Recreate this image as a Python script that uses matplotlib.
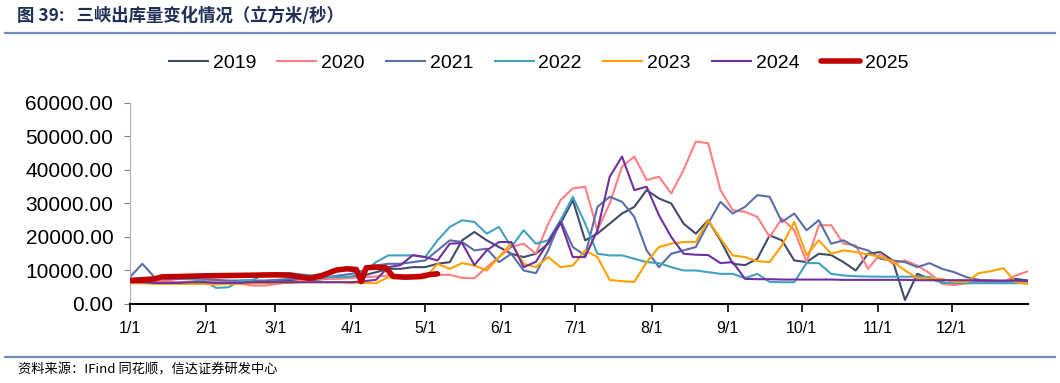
import numpy as np
import matplotlib
matplotlib.use("Agg")
import matplotlib.pyplot as plt
from matplotlib.lines import Line2D

plt.rcParams['font.family'] = ['Liberation Sans', 'DejaVu Sans']

# 数据：每 5 天一个读数（立方米/秒），横轴为一年中的第几天
days = np.arange(0, 366, 5)

y2019 = [7000, 7200, 7000, 6800, 6500, 6500, 6300, 6200, 6300, 6500,
         6500, 6800, 7000, 7000, 7200, 7200, 7500, 7800, 8000, 8500,
         9500, 10500, 10500, 11000, 11000, 12000, 12500, 19000, 21500, 19000,
         17000, 15000, 14000, 15000, 18000, 24000, 31000, 19000, 21000, 24000,
         27000, 29000, 34000, 31500, 30000, 24000, 21000, 25000, 19000, 12000,
         11600, 13500, 20500, 19000, 13000, 12500, 15000, 14600, 12500, 10000,
         15000, 15500, 13000, 1200, 9000, 7500, 6500, 5800, 6300, 6500,
         6600, 6600, 7500, 7000]

y2020 = [7000, 7000, 6800, 6800, 6500, 6500, 6500, 6800, 6500, 6000,
         5500, 5500, 6000, 6500, 7000, 7500, 7500, 7500, 7800, 8000,
         8200, 8500, 8500, 8500, 8700, 8700, 8700, 7800, 7700, 11000,
         14000, 17000, 18000, 15000, 24000, 31000, 34500, 35000, 22000, 30000,
         41000, 44000, 37000, 38000, 33000, 40000, 48500, 48000, 34000, 28000,
         27500, 26000, 20000, 25500, 22000, 12500, 23500, 23500, 18000, 17500,
         10500, 15000, 12000, 13000, 11500, 9200, 6000, 5700, 6200, 6500,
         6500, 6500, 8500, 9800]

y2021 = [8000, 12000, 8000, 7500, 7500, 7500, 7300, 7200, 7000, 7000,
         7000, 7000, 7200, 7500, 7500, 7500, 8000, 8500, 9000, 10000,
         11500, 12000, 12000, 12500, 13000, 16000, 19000, 18500, 16000, 16500,
         12500, 15000, 10000, 9200, 16000, 25000, 17000, 14500, 29000, 32000,
         30500, 26000, 16000, 11000, 15000, 16000, 17000, 24000, 30500, 27000,
         29000, 32500, 32000, 24500, 27000, 22000, 25000, 18000, 19000, 17000,
         16000, 13500, 13000, 12500, 11000, 12200, 10500, 9500, 8000, 7200,
         7000, 6800, 6800, 6800]

y2022 = [7500, 7800, 7800, 7500, 7500, 7300, 7000, 4800, 5000, 7000,
         7200, 9000, 9200, 9200, 8800, 8500, 8200, 8000, 8200, 9500,
         12500, 14500, 14500, 14500, 14000, 19000, 23000, 25000, 24500, 21000,
         23000, 17000, 22000, 18000, 19000, 25000, 32000, 24000, 15000, 14500,
         14500, 13500, 12500, 12200, 11000, 10000, 10000, 9500, 9000, 9000,
         7700, 9000, 6600, 6500, 6500, 12200, 12200, 9000, 8500, 8300,
         8200, 8150, 8150, 8150, 8100, 8100, 6300, 6200, 6200, 6200,
         6200, 6200, 6200, 6200]

y2023 = [6200, 6200, 6000, 6000, 6000, 6000, 6000, 5800, 6000, 6000,
         6200, 6200, 6300, 6300, 6500, 6500, 6500, 6500, 6300, 6300,
         6200, 8000, 7700, 7700, 7700, 12000, 10500, 12200, 11500, 10000,
         14000, 18200, 12000, 11000, 14000, 11000, 11500, 16000, 14000, 7200,
         6800, 6600, 12500, 17000, 18000, 18500, 18500, 25000, 19500, 14500,
         14000, 12800, 12500, 17500, 24500, 14600, 19000, 15000, 16000, 15500,
         14800, 14000, 12800, 10000, 7700, 7700, 7500, 6600, 6600, 9200,
         9800, 10700, 6500, 6000]

y2024 = [6500, 6500, 6300, 6300, 6300, 6500, 6500, 6300, 6300, 6300,
         6500, 6500, 6500, 6500, 6500, 6500, 6500, 6500, 6500, 6800,
         7200, 11000, 11600, 14600, 14000, 13000, 18000, 18200, 11600, 16000,
         18500, 18500, 11000, 12600, 18500, 24500, 14000, 14000, 22000, 38000,
         44000, 34000, 35000, 26500, 20000, 15000, 14700, 14600, 12200, 12500,
         7500, 7400, 7400, 7300, 7300, 7300, 7300, 7300, 7200, 7200,
         7200, 7200, 7200, 7200, 7100, 7100, 7100, 7100, 7100, 7000,
         7000, 7000, 7000, 7000]

days2025 = [0, 5, 10, 13, 20, 30, 40, 50, 54, 60, 65, 70, 73, 78, 84, 88,
            92, 94, 96, 100, 104, 107, 112, 118, 122, 125]
y2025 = [7000, 7200, 7500, 8100, 8200, 8400, 8500, 8600, 8650, 8700, 8600,
         8000, 7660, 8500, 10150, 10500, 10300, 6700, 10800, 11000, 10800,
         8200, 8000, 8200, 8800, 9000]

month_days = [0, 31, 59, 90, 120, 151, 181, 212, 243, 273, 304, 334]
month_labels = ['1/1', '2/1', '3/1', '4/1', '5/1', '6/1', '7/1', '8/1',
                '9/1', '10/1', '11/1', '12/1']

series = [('2019', y2019, '#414b6b'), ('2020', y2020, '#ff7f82'),
          ('2021', y2021, '#5a6ea8'), ('2022', y2022, '#43a1c0'),
          ('2023', y2023, '#ffa100'), ('2024', y2024, '#7030a0')]

fig = plt.figure(figsize=(10.6, 3.83), dpi=100)
ax = fig.add_axes([0.1226, 0.2063, 0.8472, 0.5248])

for name, vals, col in series:
    ax.plot(days, vals, color=col, lw=1.5, label=name)
ax.plot(days2025, y2025, color='#c00000', lw=4, label='2025',
        solid_capstyle='round', zorder=5)

ax.set_xlim(0, 365)
ax.set_ylim(0, 60000)
ax.set_yticks(np.arange(0, 60001, 10000))
ax.set_yticklabels(['%.2f' % v for v in np.arange(0, 60001, 10000)])
ax.set_xticks(month_days)
ax.set_xticklabels(month_labels)
ax.tick_params(axis='y', labelsize=15, length=4, color='#808080', pad=8)
ax.tick_params(axis='x', labelsize=11.5, length=6, width=1.2, pad=6)

for s in ['top', 'right']:
    ax.spines[s].set_visible(False)
ax.spines['left'].set_color('#b0b0b0')
ax.spines['bottom'].set_linewidth(1.5)

ax.legend(loc='center', bbox_to_anchor=(0.508, 0.8355),
          bbox_transform=fig.transFigure, ncol=7, frameon=False,
          fontsize=14, handlelength=2.0, handletextpad=0.25,
          columnspacing=1.1)

# 标题和来源
cjk = ['Noto Sans CJK SC', 'DejaVu Sans']
fig.text(17 / 1060, 1 - 16 / 383, '图 39:   三峡出库量变化情况（立方米/秒）',
         family=cjk, fontsize=12.5, fontweight='bold', color='#1f2f56',
         va='center', ha='left')
fig.add_artist(Line2D([5 / 1060, 1055 / 1060], [1 - 33 / 383, 1 - 33 / 383],
                      color='#6f8dc0', lw=1.6))
fig.add_artist(Line2D([5 / 1060, 1055 / 1060], [1 - 357 / 383, 1 - 357 / 383],
                      color='#6f8dc0', lw=1.6))
fig.text(18 / 1060, 1 - 370 / 383, '资料来源：IFind 同花顺，信达证券研发中心',
         family=cjk, fontsize=9.5, style='italic', color='black',
         va='center', ha='left')

fig.savefig('out.png', dpi=100)
